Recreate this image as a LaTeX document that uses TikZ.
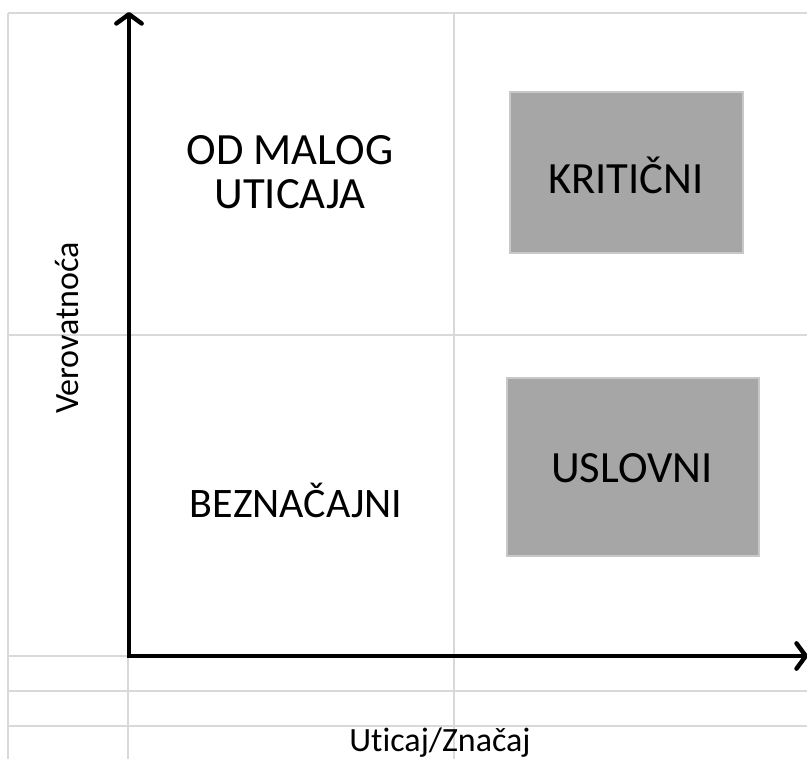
\documentclass[tikz,border=0pt]{standalone}
\usepackage{fontspec}
\setmainfont{Carlito}[Ligatures={NoCommon}]
\usetikzlibrary{arrows.meta}
\definecolor{gridgray}{HTML}{D9D9D9}
\definecolor{boxfill}{HTML}{A6A6A6}
\definecolor{boxedge}{HTML}{C8C8C8}
\begin{document}
\begin{tikzpicture}[x=0.75pt,y=-0.75pt,
  gridline/.style={draw=gridgray,line width=1.5pt},
  axis/.style={draw=black,line width=3.3pt,
    {Straight Barb[length=7pt,width=19pt,round]}-{Straight Barb[length=7pt,width=19pt,round]}},
  label/.style={font=\fontsize{33.5}{33}\selectfont,align=center,text=black,inner sep=0pt},
  axislabel/.style={font=\fontsize{25.5}{28}\selectfont,text=black,inner sep=0pt},
  quadbox/.style={fill=boxfill,draw=boxedge,line width=1pt},
]
\useasboundingbox (0,0) rectangle (807,759);

% background grid
\draw[gridline] (8,13) -- (807,13);
\draw[gridline] (8,335) -- (807,335);
\draw[gridline] (8,656) -- (807,656);
\draw[gridline] (8,691) -- (807,691);
\draw[gridline] (8,726) -- (807,726);
\draw[gridline] (8,13) -- (8,759);
\draw[gridline] (128,13) -- (128,759);
\draw[gridline] (454,13) -- (454,759);

% shaded quadrants
\node[quadbox,minimum width=233*0.75pt,minimum height=161*0.75pt] (krit) at (626.5,172.5) {};
\node[quadbox,minimum width=252*0.75pt,minimum height=178*0.75pt] (uslov) at (633,467) {};

% axes
\coordinate (ytop) at (129,12);
\coordinate (origin) at (129,656);
\coordinate (xend) at (808,656);
\draw[axis] (ytop) -- (origin) -- (xend);

% quadrant labels
\node[label] (kritl) at (626,175) {KRITIČNI};
\node[label] (uslovl) at (632,468) {USLOVNI};
\node[label] (malo) at (290,172) {OD MALOG\\UTICAJA};
\node[label,font=\fontsize{31.5}{33}\selectfont] (bezn) at (296,500) {BEZNAČAJNI};

% axis titles
\node[axislabel,rotate=90] (ylab) at (67,328) {Verovatnoća};
\node[axislabel,anchor=base] (xlab) at (440,751) {Uticaj/Značaj};
\end{tikzpicture}
\end{document}
